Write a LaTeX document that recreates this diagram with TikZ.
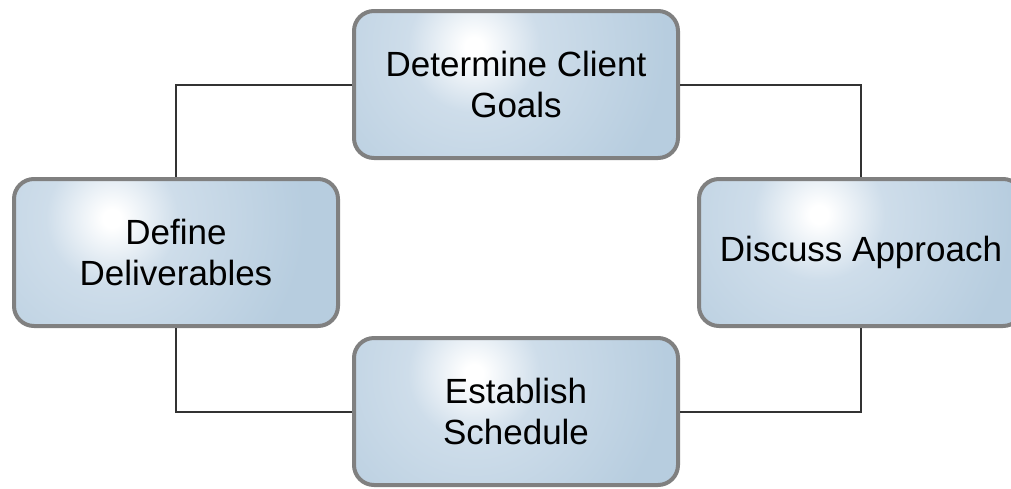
\documentclass[tikz,border=0pt]{standalone}
\usepackage{fontspec}
\setmainfont{Liberation Sans}
\definecolor{boxblue}{HTML}{B7CDDF}
\definecolor{boxmid}{HTML}{CEDDEA}
\definecolor{boxedge}{HTML}{808080}
\definecolor{linkcol}{HTML}{333333}
\pgfdeclareradialshading{glow}{\pgfpoint{0bp}{0bp}}{color(0bp)=(white); color(1.5bp)=(white); color(11bp)=(boxmid); color(32bp)=(boxblue); color(50bp)=(boxblue)}
\tikzset{
  glowx/.store in=\gx, glowy/.store in=\gy, glowx=-42pt, glowy=38pt,
  stepbox/.style={draw=boxedge, line width=4pt, rounded corners=20pt,
    path picture={
      \fill[boxblue] (path picture bounding box.south west) rectangle (path picture bounding box.north east);
      \coordinate (glowc) at ([shift={(\gx,\gy)}]path picture bounding box.center);
      \begin{pgfscope}
        \pgftransformshift{\pgfpointanchor{glowc}{center}}
        \pgftransformscale{6}
        \pgflowlevelsynccm
        \pgfuseshading{glow}
      \end{pgfscope}
    },
    minimum width=324pt, minimum height=147pt, align=center, inner sep=0pt,
    font=\fontsize{35}{41}\selectfont, text=black},
  link/.style={draw=linkcol, line width=2pt}
}
\begin{document}
\begin{tikzpicture}[x=1pt,y=-1pt]
\useasboundingbox (0,0) rectangle (1011,488);
\fill[white] (0,0) rectangle (1011,488);
\node[stepbox] (goals) at (516,84.5) {Determine Client\\Goals};
\node[stepbox, glowx=-64pt, glowy=34pt] (deliv) at (176,252.5) {Define\\Deliverables};
\node[stepbox] (appr) at (861,252.5) {Discuss Approach};
\node[stepbox] (sched) at (516,411.5) {Establish\\Schedule};
\draw[link] (goals.west) -| (deliv.north);
\draw[link] (goals.east) -| (appr.north);
\draw[link] (deliv.south) |- (sched.west);
\draw[link] (appr.south) |- (sched.east);
\end{tikzpicture}
\end{document}
